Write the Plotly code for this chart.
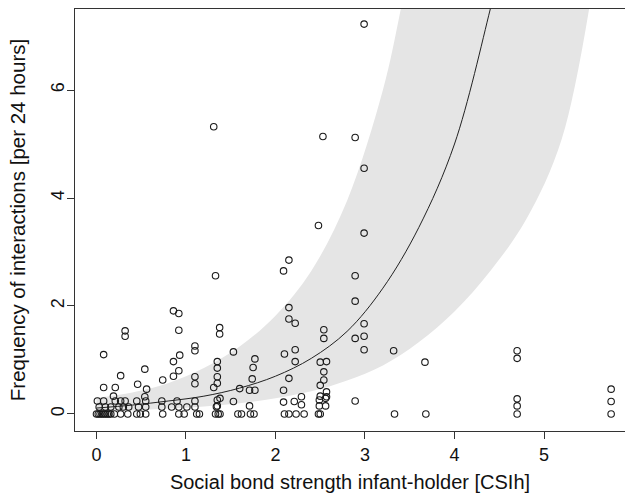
import plotly.graph_objects as go

# Observed data points (social bond strength CSIh, interactions per 24 h)
csi_x = [
    0.00, 0.02, 0.04, 0.06, 0.08, 0.10, 0.12, 0.14, 0.16, 0.20,
    0.03, 0.10, 0.16, 0.25, 0.30, 0.36,
    0.01, 0.08, 0.21, 0.27, 0.32,
    0.08, 0.08, 0.21, 0.19,
    0.27, 0.35, 0.27, 0.32, 0.32,
    0.45, 0.49, 0.45, 0.47, 0.46,
    0.55, 0.55, 0.55, 0.54, 0.56, 0.54,
    0.74, 0.73, 0.73, 0.74,
    0.86, 0.86, 0.86, 0.84,
    0.92, 0.92, 0.93, 0.92, 0.92, 0.90, 0.92, 0.98,
    1.01,
    1.10, 1.10, 1.10, 1.10, 1.10, 1.10, 1.12, 1.15,
    1.31, 1.33,
    1.376, 1.376, 1.35, 1.35, 1.35, 1.35, 1.31, 1.35, 1.35, 1.38, 1.34, 1.33, 1.36, 1.38,
    1.53, 1.53, 1.58, 1.62, 1.60,
    1.77, 1.75, 1.74, 1.71, 1.77, 1.71, 1.72, 1.76,
    2.09, 2.15, 2.15, 2.15, 2.22, 2.10, 2.22, 2.22, 2.15, 2.09, 2.09, 2.21, 2.29, 2.29,
    2.10, 2.15, 2.23, 2.32,
    2.48, 2.53, 2.50, 2.57, 2.54, 2.54, 2.54, 2.54, 2.50, 2.57, 2.50, 2.57, 2.49, 2.56,
    2.49, 2.56, 2.48, 2.50,
    2.89, 2.89, 2.89, 2.89, 2.89,
    2.99, 2.99, 2.99, 2.99, 2.99, 2.99,
    3.32, 3.33, 3.67, 3.68,
    4.70, 4.70, 4.70, 4.70, 4.70,
    5.75, 5.75, 5.75,
]
freq_y = [
    0, 0, 0, 0, 0, 0, 0, 0, 0, 0,
    0.13, 0.13, 0.13, 0.13, 0.13, 0.13,
    0.24, 0.24, 0.24, 0.24, 0.24,
    1.10, 0.49, 0.49, 0.33,
    0, 0, 0.71, 1.54, 1.44,
    0, 0, 0.24, 0.13, 0.55,
    0, 0.24, 0.13, 0.83, 0.46, 0.32,
    0, 0.24, 0.13, 0.63,
    1.91, 0.97, 0.70, 0.13,
    1.86, 1.55, 1.09, 0.80, 0.13, 0.24, 0, 0,
    0.13,
    1.26, 1.17, 0.69, 0.56, 0.24, 0.13, 0, 0,
    5.32, 2.56,
    1.60, 1.48, 0.97, 0.85, 0.69, 0.57, 0.49, 0.26, 0.15, 0.29, 0.135, 0, 0, 0,
    1.15, 0.23, 0, 0, 0.47,
    1.02, 0.86, 0.65, 0.44, 0.44, 0.15, 0, 0,
    2.65, 2.85, 1.97, 1.76, 1.68, 1.11, 1.19, 0.97, 0.66, 0.44, 0.22, 0.23, 0.32, 0.17,
    0, 0, 0, 0,
    3.49, 5.14, 0.96, 0.97, 1.56, 1.40, 0.78, 0.63, 0.53, 0.41, 0.33, 0.32, 0.26, 0.29,
    0.15, 0.15, 0, 0,
    5.12, 2.56, 2.09, 1.40, 0.24,
    7.22, 4.55, 3.35, 1.67, 1.44, 1.19,
    1.17, 0, 0.96, 0,
    1.17, 1.03, 0.28, 0.15, 0,
    0.46, 0.23, 0,
]

# Fitted curve
fit_x = [0.0, 0.4, 0.8, 1.2, 1.6, 2.0, 2.4, 2.8, 3.2, 3.6, 4.0, 4.4, 4.5]
fit_y = [0.11, 0.165, 0.24, 0.33, 0.48, 0.70, 1.03, 1.53, 2.33, 3.45, 5.0, 7.5, 8.2]

# Confidence band edges
band_up_x = [0.0, 0.4, 0.8, 1.2, 1.6, 2.0, 2.4, 2.8, 3.2, 3.4, 3.6, 4.0]
band_up_y = [0.30, 0.40, 0.57, 0.85, 1.25, 1.82, 2.65, 3.95, 6.0, 7.5, 9.3, 14.0]
band_lo_x = [0.0, 0.4, 0.8, 1.2, 1.6, 2.0, 2.4, 2.8, 3.2, 3.6, 4.0, 4.4, 4.8, 5.2, 5.6]
band_lo_y = [0.04, 0.065, 0.10, 0.14, 0.20, 0.29, 0.42, 0.62, 0.90, 1.33, 1.90, 2.65, 3.6, 5.1, 8.5]

x_ticks = [0, 1, 2, 3, 4, 5]
y_ticks = [0, 2, 4, 6]

FONT = "Liberation Sans, Arial, sans-serif"
INK = "#111111"

fig = go.Figure()
fig.add_trace(go.Scatter(x=band_up_x, y=band_up_y, mode="lines",
                         line=dict(width=0, color="#e5e5e5", shape="spline"),
                         hoverinfo="skip", showlegend=False))
fig.add_trace(go.Scatter(x=band_lo_x, y=band_lo_y, mode="lines",
                         line=dict(width=0, color="#e5e5e5", shape="spline"),
                         fill="tonexty", fillcolor="#e5e5e5",
                         hoverinfo="skip", showlegend=False))
fig.add_trace(go.Scatter(x=fit_x, y=fit_y, mode="lines",
                         line=dict(width=1, color="#222222", shape="spline"),
                         showlegend=False))
fig.add_trace(go.Scatter(x=csi_x, y=freq_y, mode="markers",
                         marker=dict(symbol="circle-open", size=6.5,
                                     line=dict(width=1.1, color="#1a1a1a"),
                                     color="#1a1a1a"),
                         cliponaxis=False, showlegend=False))

fig.update_layout(
    width=625, height=495,
    margin=dict(l=75, r=0, t=9, b=64),
    paper_bgcolor="white", plot_bgcolor="white",
    font=dict(family=FONT, size=18, color=INK),
)
fig.update_xaxes(
    range=[-0.240, 5.905], tickvals=x_ticks, ticktext=[str(v) for v in x_ticks],
    showgrid=False, zeroline=False, showline=True, linecolor="#333333", linewidth=1,
    mirror=True, ticks="outside", ticklen=7, tickcolor="#333333",
    tickfont=dict(size=18, family=FONT, color=INK),
    title=dict(text="Social bond strength infant-holder [CSIh]",
               font=dict(size=20, family=FONT, color=INK), standoff=11),
)
fig.update_yaxes(
    range=[-0.315, 7.5], tickvals=y_ticks, ticktext=[str(v) for v in y_ticks],
    showgrid=False, zeroline=False, showline=True, linecolor="#333333", linewidth=1,
    ticks="outside", ticklen=7, tickcolor="#333333", tickangle=-90,
    ticklabelstandoff=-4,
    tickfont=dict(size=18, family=FONT, color=INK),
    title=dict(text="Frequency of interactions [per 24 hours]",
               font=dict(size=20.5, family=FONT, color=INK), standoff=16),
)

fig.write_html("out.html")
